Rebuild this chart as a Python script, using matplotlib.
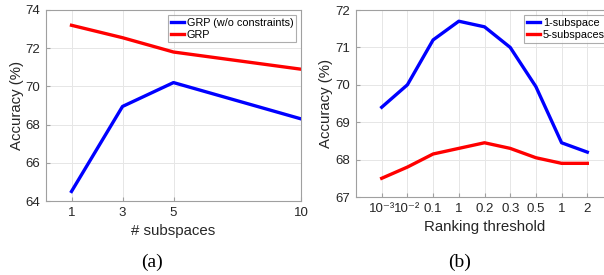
import numpy as np
import matplotlib.pyplot as plt

plt.rcParams['font.family'] = ['Liberation Sans', 'DejaVu Sans']

# panel (a)
subspaces = [1, 3, 5, 10]
grp_noc = [64.5, 68.95, 70.2, 68.3]
grp = [73.2, 72.55, 71.8, 70.9]

# panel (b)
thr_labels = ['10⁻³', '10⁻²', '0.1', '1', '0.2', '0.3', '0.5', '1', '2']
one_sub = [69.4, 70.0, 71.2, 71.7, 71.55, 71.0, 69.95, 68.45, 68.2]
five_sub = [67.5, 67.8, 68.15, 68.3, 68.45, 68.3, 68.05, 67.9, 67.9]

W, H = 604, 275
fig = plt.figure(figsize=(W / 100, H / 100), dpi=100)

def px(l, t, r, b):
    return [l / W, 1 - b / H, (r - l) / W, (b - t) / H]

grid_c = '#e6e6e6'
spine_c = '#a0a0a0'
txt_c = '#262626'

def style(ax):
    for s in ax.spines.values():
        s.set_color(spine_c)
        s.set_linewidth(0.8)
    ax.grid(True, color=grid_c, linewidth=0.7)
    ax.set_axisbelow(True)
    ax.tick_params(direction='in', length=3, color=spine_c, labelcolor=txt_c,
                   labelsize=9.5, top=False, right=False, pad=4)

def legend(ax, bpad):
    leg = ax.legend(loc='upper right', fontsize=7.8, frameon=True, fancybox=False,
                    edgecolor='#999999', handlelength=1.2, borderpad=0.25,
                    labelspacing=0.2, handletextpad=0.25, borderaxespad=bpad)
    leg.get_frame().set_linewidth(0.8)
    for h in leg.get_lines():
        h.set_linewidth(2.4)
    return leg

ax1 = fig.add_axes(px(46, 10, 301, 201))
ax1.plot(subspaces, grp_noc, color='#0000ff', lw=2.4, label='GRP (w/o constraints)')
ax1.plot(subspaces, grp, color='#ff0000', lw=2.4, label='GRP')
ax1.set_xlim(0, 10)
ax1.set_ylim(64, 74)
ax1.set_xticks(subspaces)
ax1.set_yticks(np.arange(64, 75, 2))
style(ax1)
ax1.set_xlabel('# subspaces', fontsize=10.8, color=txt_c, labelpad=4)
ax1.set_ylabel('Accuracy (%)', fontsize=10.8, color=txt_c)
ax1.yaxis.set_label_coords(-0.085, 0.5)
legend(ax1, 0.45)

ax2 = fig.add_axes(px(356, 10, 613, 197))
pos = np.arange(1, len(thr_labels) + 1)
ax2.plot(pos, one_sub, color='#0000ff', lw=2.4, label='1-subspace')
ax2.plot(pos, five_sub, color='#ff0000', lw=2.4, label='5-subspaces')
ax2.set_xlim(0, 10)
ax2.set_ylim(67, 72)
ax2.set_xticks(pos)
ax2.set_xticklabels(thr_labels)
ax2.set_yticks(np.arange(67, 73, 1))
style(ax2)
ax2.set_xlabel('Ranking threshold', fontsize=10.8, color=txt_c, labelpad=4)
ax2.set_ylabel('Accuracy (%)', fontsize=10.8, color=txt_c)
ax2.yaxis.set_label_coords(-0.09, 0.5)
legend(ax2, 0.5)

fig.text(152 / W, 1 - 262 / H, '(a)', ha='center', va='center', fontsize=14,
         family=['Liberation Serif', 'DejaVu Serif'])
fig.text(460 / W, 1 - 262 / H, '(b)', ha='center', va='center', fontsize=14,
         family=['Liberation Serif', 'DejaVu Serif'])

fig.savefig('out.png', dpi=100)
